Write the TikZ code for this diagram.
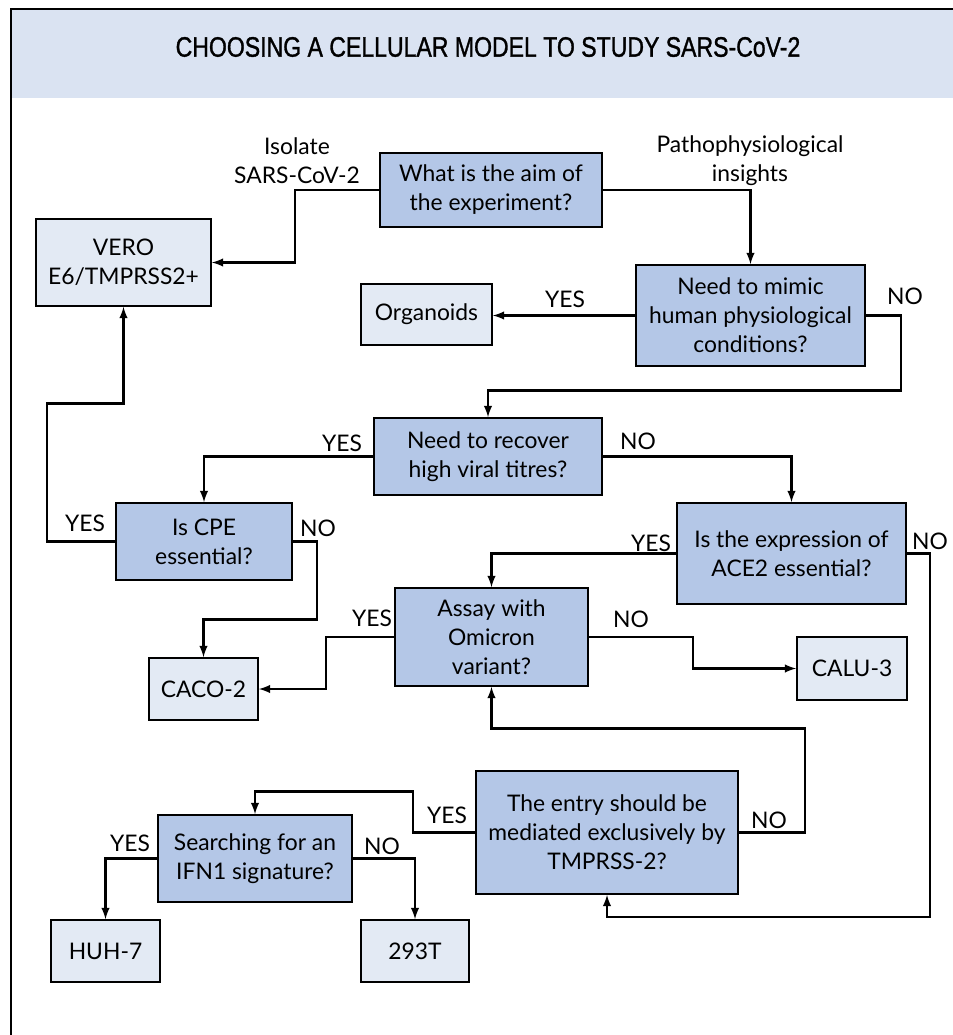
\documentclass[tikz,border=0pt]{standalone}
\usepackage{fontspec}
\setmainfont{Lato}
\newfontfamily\titlefont[FakeBold=1.3]{Liberation Sans}
\usepackage{tikz}
\usetikzlibrary{arrows}
\usetikzlibrary{calc}
\usetikzlibrary{positioning}

\definecolor{qfill}{RGB}{180,199,231}
\definecolor{cfill}{RGB}{227,234,244}
\definecolor{hfill}{RGB}{218,227,242}

\tikzset{
  question/.style={draw, line width=1.1pt, fill=qfill, align=center, inner sep=2pt},
  cellbox/.style={draw, line width=1.1pt, fill=cfill, align=center, inner sep=2pt},
  answer/.style={inner sep=1pt, align=center},
  flow/.style={->, >=latex, line width=1.2pt}
}

\begin{document}
\begin{tikzpicture}[x=0.02cm, y=-0.02cm, font=\fontsize{13}{16.5}\selectfont]
        \useasboundingbox (0,0) rectangle (953,1035);
        \fill[hfill] (11,9) rectangle (953,98);
        \draw[line width=1.1pt] (11,1035) -- (11,9) -- (953,9);
        \node (title) at (488,47) {\titlefont\fontsize{16}{19}\selectfont\scalebox{0.82}[1]{CHOOSING A CELLULAR MODEL TO STUDY SARS-CoV-2}};

        % questions
        \node[question, minimum width=4.44cm, minimum height=1.48cm] (aim) at (491,190) {What is the aim of\\the experiment?};
        \node[question, minimum width=4.58cm, minimum height=2.02cm] (mimic) at (750.5,315.5) {Need to mimic\\human physiological\\conditions?};
        \node[question, minimum width=4.56cm, minimum height=1.54cm] (recover) at (488,456.5) {Need to recover\\high viral titres?};
        \node[question, minimum width=3.52cm, minimum height=1.54cm] (cpe) at (204,541.5) {Is CPE\\essential?};
        \node[question, minimum width=4.58cm, minimum height=2.02cm] (ace2) at (791.5,553.5) {Is the expression of\\ACE2 essential?};
        \node[question, minimum width=3.86cm, minimum height=1.96cm] (omicron) at (491.5,637) {Assay with\\Omicron\\variant?};
        \node[question, minimum width=5.24cm, minimum height=2.46cm] (tmprss) at (607,832.5) {The entry should be\\mediated exclusively by\\TMPRSS-2?};
        \node[question, minimum width=3.88cm, minimum height=1.74cm] (ifn) at (255,858.5) {Searching for an\\IFN1 signature?};

        % cell lines
        \node[cellbox, minimum width=3.5cm, minimum height=1.74cm] (vero) at (123.5,262.5) {VERO\\E6/TMPRSS2+};
        \node[cellbox, minimum width=2.62cm, minimum height=1.22cm] (organoids) at (426.5,314.5) {Organoids};
        \node[cellbox, minimum width=2.18cm, minimum height=1.24cm] (caco) at (203.5,689) {CACO-2};
        \node[cellbox, minimum width=2.2cm, minimum height=1.26cm] (calu) at (852,668.5) {CALU-3};
        \node[cellbox, minimum width=2.18cm, minimum height=1.24cm] (huh) at (105.5,951) {HUH-7};
        \node[cellbox, minimum width=2.16cm, minimum height=1.24cm] (t293) at (415,951) {293T};

        \node[answer] (isolate) at (297,161) {Isolate\\SARS-CoV-2};
        \node[answer] (patho) at (750,161) {Pathophysiological\\insights};
        \node[answer] (y1) at (565,299) {YES};
        \node[answer] (n1) at (905,296) {NO};
        \node[answer] (y2) at (342,443) {YES};
        \node[answer] (n2) at (638,441) {NO};
        \node[answer] (y3) at (85,523) {YES};
        \node[answer] (n3) at (318,528) {NO};
        \node[answer] (y4) at (651,543) {YES};
        \node[answer] (n4) at (930,541) {NO};
        \node[answer] (y5) at (372,618) {YES};
        \node[answer] (n5) at (631,619) {NO};
        \node[answer] (n6) at (769,820) {NO};
        \node[answer] (y6) at (447,815) {YES};
        \node[answer] (y7) at (130,843) {YES};
        \node[answer] (n7) at (382,846) {NO};

        \draw[flow] (aim.west) -- ++(-84,0) |- (vero.east);
        \draw[flow] (aim.east) -| (mimic.north);
        \draw[flow] (mimic.west) -- (mimic.west -| organoids.east);
        \draw[flow] (mimic.east) -- ++(35,0) -- ++(0,75) -| (recover.north);
        \draw[flow] (recover.west) -| (cpe.north);
        \draw[flow] (recover.east) -| (ace2.north);
        \draw[flow] (cpe.west) -- ++(-68,0) -- ++(0,-138) -| (vero.south);
        \draw[flow] (cpe.east) -- ++(24,0) -- ++(0,78) -| (caco.north);
        \draw[flow] (ace2.west) -| (omicron.north);
        \draw[flow] (ace2.east) -- ++(23,0) -- ++(0,363.5) -| (tmprss.south);
        \draw[flow] (omicron.west) -- ++(-68,0) |- (caco.east);
        \draw[flow] (omicron.east) -- ++(104,0) |- (calu.west);
        \draw[flow] (tmprss.east) -- ++(66,0) -- ++(0,-104) -| (omicron.south);
        \draw[flow] (tmprss.west) -- ++(-62,0) -- ++(0,-41) -| (ifn.north);
        \draw[flow] (ifn.west) -| (huh.north);
        \draw[flow] (ifn.east) -| (t293.north);
    \end{tikzpicture}
\end{document}
